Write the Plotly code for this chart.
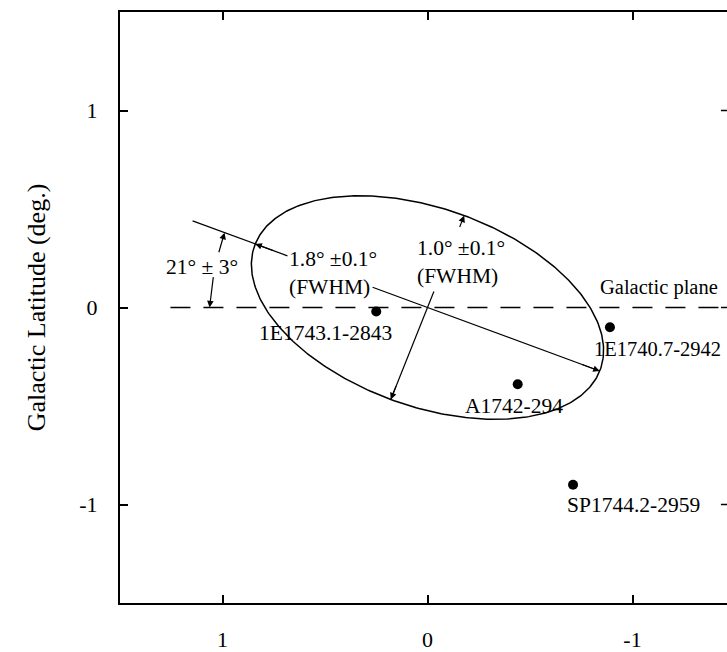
import numpy as np
import plotly.graph_objects as go

# Known X-ray sources near the Galactic centre (longitude, latitude in degrees)
src_names = ["1E1743.1-2843", "A1742-294", "1E1740.7-2942", "SP1744.2-2959"]
src_l = [0.25, -0.44, -0.89, -0.71]
src_b = [-0.02, -0.39, -0.10, -0.90]
# label anchor for each source name
lab_l = [0.50, -0.42, -0.80, -0.67]
lab_b = [-0.13, -0.50, -0.21, -1.005]
lab_anchor = ["center", "center", "left", "left"]
lab_size = [21.5, 21.5, 20.5, 21.5]

# Fitted emission region: centre, FWHM sizes and tilt w.r.t. the plane
center_l, center_b = 0.0, 0.0
fwhm_major, fwhm_minor = 1.8, 1.0
tilt_deg = 21.0

x_ticks = [1, 0, -1]
y_ticks = [1, 0, -1]

FONT = "Liberation Serif, Times New Roman, serif"
TXT = 21.5
fig = go.Figure()

a, b = fwhm_major / 2, fwhm_minor / 2
th = np.radians(tilt_deg)
ux, uy = np.cos(th), np.sin(th)       # major-axis direction
vx, vy = -np.sin(th), np.cos(th)      # minor-axis direction

# ellipse outline
t = np.linspace(0, 2 * np.pi, 400)
ex = center_l + a * np.cos(t) * ux + b * np.sin(t) * vx
ey = center_b + a * np.cos(t) * uy + b * np.sin(t) * vy
fig.add_trace(go.Scatter(x=ex, y=ey, mode="lines",
                         line=dict(color="black", width=1.5), hoverinfo="skip"))

# Galactic plane
fig.add_trace(go.Scatter(x=[1.254, -1.6], y=[0, 0], mode="lines",
                         line=dict(color="black", width=1.5, dash="20px,13px"),
                         hoverinfo="skip"))

# major axis line, interrupted by its label
def on_major(s):
    return center_l + s * ux, center_b + s * uy

for s0, s1 in [(1.2275, 0.732), (0.287, -0.9)]:
    p0, p1 = on_major(s0), on_major(s1)
    fig.add_trace(go.Scatter(x=[p0[0], p1[0]], y=[p0[1], p1[1]], mode="lines",
                             line=dict(color="black", width=1.2), hoverinfo="skip"))

# minor axis line from below its label to the lower rim
def on_minor(s):
    return center_l + s * vx, center_b + s * vy

m0, m1 = on_minor(0.087), on_minor(-b)
fig.add_trace(go.Scatter(x=[m0[0], m1[0]], y=[m0[1], m1[1]], mode="lines",
                         line=dict(color="black", width=1.2), hoverinfo="skip"))

# sources
fig.add_trace(go.Scatter(x=src_l, y=src_b, mode="markers",
                         marker=dict(color="black", size=10), hoverinfo="skip"))

def arrow(tail, head):
    fig.add_annotation(x=head[0], y=head[1], ax=tail[0], ay=tail[1],
                       xref="x", yref="y", axref="x", ayref="y", text="",
                       showarrow=True, arrowhead=2, arrowsize=1.1,
                       arrowwidth=1.2, arrowcolor="black", standoff=0)

arrow(on_major(-0.8), on_major(-a))       # right end of major axis
arrow(on_major(0.8), on_major(a))         # left end of major axis
arrow(on_minor(-0.42), on_minor(-b))      # lower end of minor axis
arrow(on_minor(0.43), on_minor(b))        # upper end of minor axis
# tilt angle marks
arrow((1.02, 0.273), (0.99, 0.99 * np.tan(th)))
arrow((1.044, 0.162), (1.063, 0.0))

for name, x, y, anc, fs in zip(src_names, lab_l, lab_b, lab_anchor, lab_size):
    fig.add_annotation(x=x, y=y, text=name, showarrow=False, xanchor=anc,
                       font=dict(family=FONT, size=fs, color="black"))

fig.add_annotation(x=0.683, y=0.177, text="1.8° ±0.1°<br>(FWHM)", showarrow=False,
                   xanchor="left", align="left",
                   font=dict(family=FONT, size=TXT, color="black"))
fig.add_annotation(x=0.059, y=0.232, text="1.0° ±0.1°<br>(FWHM)", showarrow=False,
                   xanchor="left", align="left",
                   font=dict(family=FONT, size=TXT, color="black"))
fig.add_annotation(x=1.098, y=0.207, text="21° ± 3°", showarrow=False,
                   font=dict(family=FONT, size=TXT, color="black"))
fig.add_annotation(x=-0.83, y=0.101, text="Galactic plane", showarrow=False,
                   xanchor="left", font=dict(family=FONT, size=20.5, color="black"))

# inward ticks on the right-hand frame edge
for yv in y_ticks:
    fig.add_shape(type="line", xref="paper", yref="y", x0=0.99, x1=1.0,
                  y0=yv, y1=yv, line=dict(color="black", width=1.5))

fig.update_layout(
    width=727, height=652,
    margin=dict(l=120, r=0, t=12, b=46),
    paper_bgcolor="white", plot_bgcolor="white",
    showlegend=False,
    font=dict(family=FONT, size=TXT, color="black"),
    xaxis=dict(range=[1.5, -1.461], tickvals=x_ticks, ticktext=[str(v) for v in x_ticks],
               showgrid=False, zeroline=False, showline=True, linecolor="black",
               linewidth=2, mirror="ticks", ticks="inside", ticklen=8,
               tickwidth=1.5, tickcolor="black", ticklabelstandoff=16,
               tickfont=dict(family=FONT, size=22)),
    yaxis=dict(range=[-1.5, 1.5], tickvals=y_ticks, ticktext=[str(v) for v in y_ticks],
               showgrid=False, zeroline=False, showline=True, linecolor="black",
               linewidth=2, ticks="inside", ticklen=8, tickwidth=1.5,
               tickcolor="black", ticklabelstandoff=16,
               tickfont=dict(family=FONT, size=22),
               title=dict(text="Galactic Latitude (deg.)", standoff=26,
                          font=dict(family=FONT, size=26))),
)

fig.write_html("out.html")
